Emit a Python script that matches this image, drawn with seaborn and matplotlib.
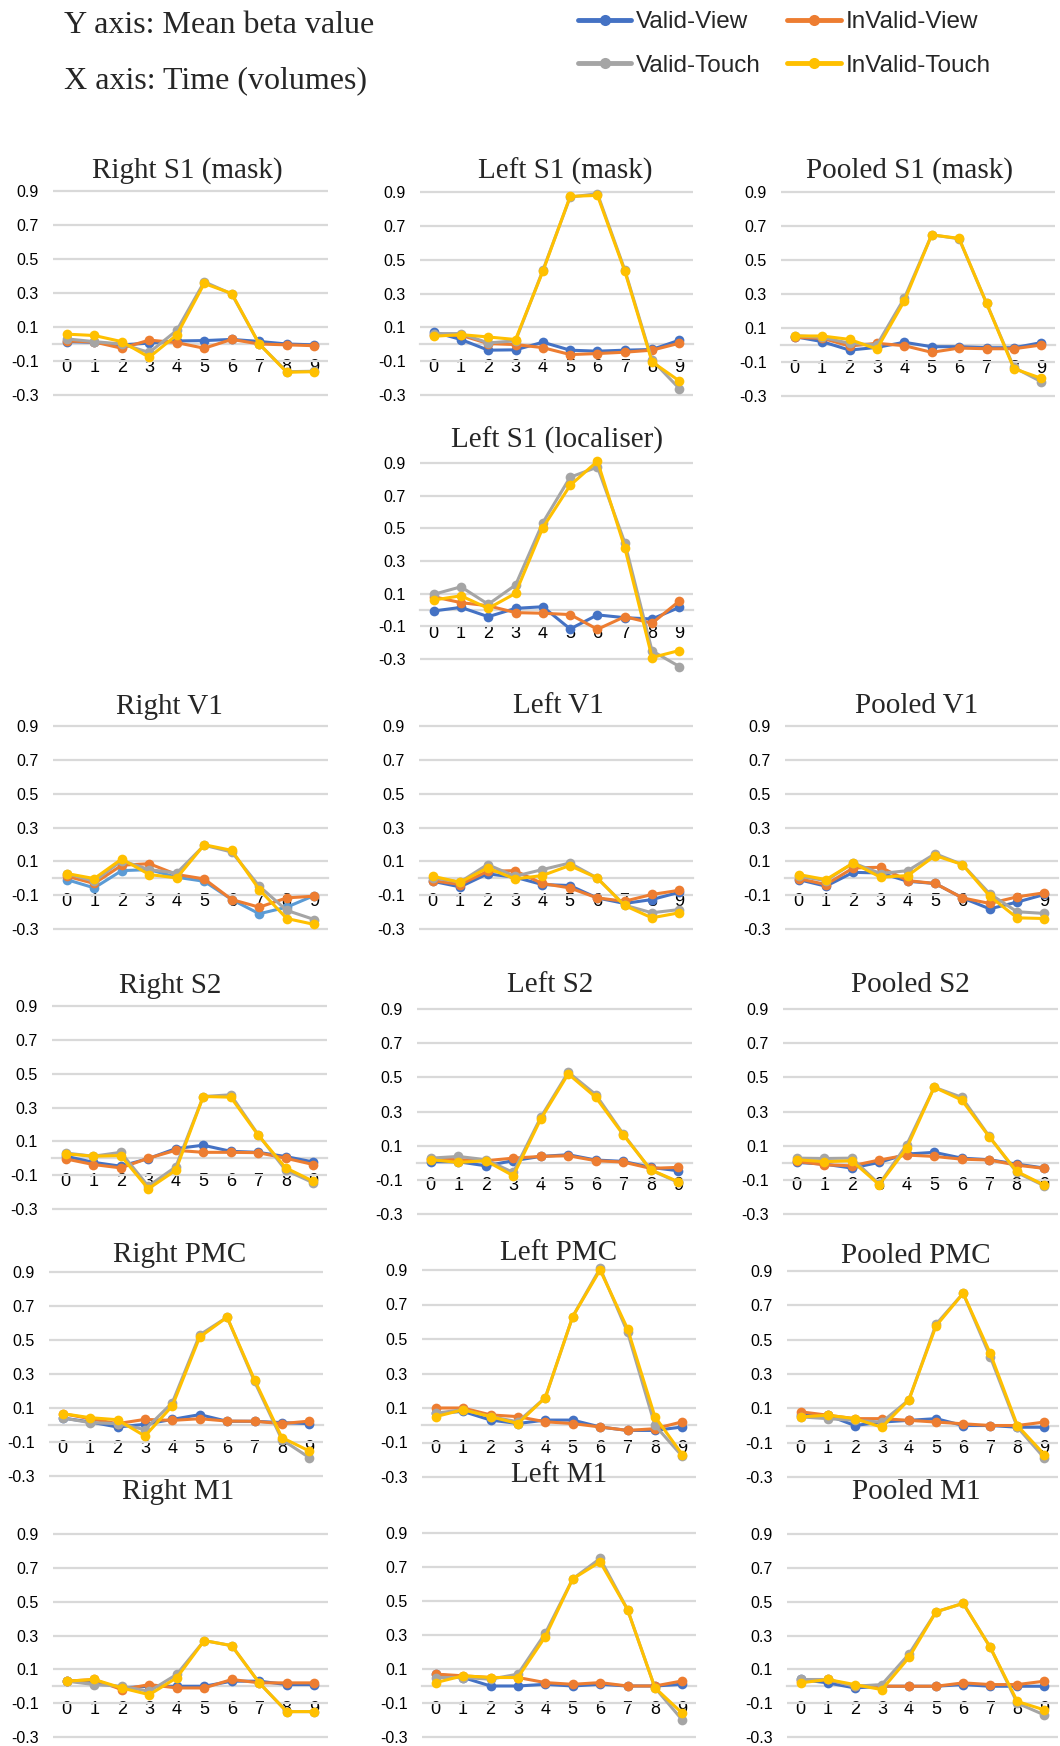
import numpy as np
import pandas as pd
import matplotlib
matplotlib.use("Agg")
import matplotlib.pyplot as plt
import seaborn as sns
from matplotlib.lines import Line2D

# ---------------- data ----------------
TIME = [0, 1, 2, 3, 4, 5, 6, 7, 8, 9]
X_LABELS = ["0", "1", "2", "3", "4", "5", "6", "7", "8", "9"]
Y_TICKS = [-0.3, -0.1, 0.1, 0.3, 0.5, 0.7, 0.9]
Y_LABELS = ["-0.3", "-0.1", "0.1", "0.3", "0.5", "0.7", "0.9"]
CONDITIONS = ["Valid-View", "InValid-View", "Valid-Touch", "InValid-Touch"]

# each panel: rows = Valid-View, InValid-View, Valid-Touch, InValid-Touch
RIGHT_S1_MASK = [
    [0.014, 0.010, -0.005, 0.005, 0.018, 0.020, 0.027, 0.015, 0.000, -0.005],
    [0.018, 0.012, -0.025, 0.023, 0.008, -0.025, 0.027, 0.000, -0.005, -0.010],
    [0.030, 0.014, 0.000, -0.050, 0.080, 0.366, 0.294, 0.000, -0.163, -0.160],
    [0.058, 0.050, 0.014, -0.078, 0.053, 0.356, 0.297, 0.000, -0.166, -0.163],
]
LEFT_S1_MASK = [
    [0.073, 0.028, -0.035, -0.033, 0.012, -0.035, -0.041, -0.035, -0.031, 0.024],
    [0.053, 0.053, 0.004, -0.002, -0.020, -0.061, -0.055, -0.047, -0.035, 0.006],
    [0.063, 0.063, 0.008, 0.020, 0.437, 0.870, 0.890, 0.440, -0.094, -0.262],
    [0.047, 0.057, 0.043, 0.028, 0.431, 0.874, 0.880, 0.433, -0.104, -0.217],
]
POOLED_S1_MASK = [
    [0.049, 0.020, -0.030, -0.014, 0.016, -0.010, -0.010, -0.016, -0.016, 0.014],
    [0.045, 0.040, -0.006, 0.010, -0.004, -0.043, -0.018, -0.022, -0.022, 0.000],
    [0.055, 0.045, 0.010, 0.000, 0.275, 0.648, 0.625, 0.246, -0.132, -0.216],
    [0.053, 0.053, 0.033, -0.024, 0.259, 0.648, 0.627, 0.246, -0.139, -0.196],
]
LEFT_S1_LOCALISER = [
    [-0.006, 0.016, -0.041, 0.010, 0.020, -0.116, -0.030, -0.047, -0.055, 0.016],
    [0.081, 0.045, 0.026, -0.016, -0.020, -0.028, -0.118, -0.041, -0.081, 0.055],
    [0.096, 0.142, 0.035, 0.153, 0.535, 0.813, 0.875, 0.413, -0.250, -0.346],
    [0.061, 0.087, 0.010, 0.102, 0.504, 0.763, 0.911, 0.382, -0.291, -0.248],
]
RIGHT_V1 = [
    [-0.008, -0.057, 0.045, 0.051, 0.006, -0.018, -0.126, -0.210, -0.171, -0.102],
    [0.012, -0.031, 0.077, 0.086, 0.022, -0.004, -0.126, -0.171, -0.116, -0.106],
    [0.028, -0.018, 0.104, 0.051, 0.031, 0.195, 0.155, -0.047, -0.190, -0.244],
    [0.028, -0.002, 0.114, 0.022, 0.002, 0.198, 0.165, -0.067, -0.238, -0.273],
]
LEFT_V1 = [
    [-0.018, -0.051, 0.026, 0.006, -0.037, -0.043, -0.116, -0.149, -0.126, -0.083],
    [-0.014, -0.037, 0.041, 0.045, -0.031, -0.057, -0.116, -0.136, -0.096, -0.071],
    [0.002, -0.022, 0.081, 0.012, 0.051, 0.090, 0.002, -0.159, -0.204, -0.185],
    [0.012, -0.024, 0.061, -0.004, 0.016, 0.075, 0.002, -0.161, -0.234, -0.204],
]
POOLED_V1 = [
    [-0.008, -0.047, 0.035, 0.031, -0.018, -0.031, -0.116, -0.181, -0.141, -0.096],
    [-0.002, -0.037, 0.061, 0.065, -0.014, -0.031, -0.116, -0.149, -0.110, -0.086],
    [0.012, -0.014, 0.090, 0.028, 0.045, 0.145, 0.081, -0.092, -0.198, -0.208],
    [0.022, -0.008, 0.090, 0.006, 0.016, 0.134, 0.081, -0.106, -0.234, -0.238],
]
RIGHT_S2 = [
    [0.012, -0.024, -0.047, -0.002, 0.057, 0.077, 0.041, 0.035, 0.010, -0.022],
    [-0.004, -0.037, -0.057, 0.000, 0.047, 0.035, 0.035, 0.033, 0.000, -0.037],
    [0.031, 0.012, 0.035, -0.165, -0.051, 0.365, 0.375, 0.139, -0.071, -0.145],
    [0.026, 0.012, 0.016, -0.181, -0.071, 0.365, 0.361, 0.136, -0.057, -0.136],
]
LEFT_S2 = [
    [0.006, 0.006, -0.018, 0.012, 0.037, 0.047, 0.016, 0.008, -0.027, -0.047],
    [0.021, 0.018, 0.012, 0.027, 0.037, 0.041, 0.012, 0.004, -0.033, -0.027],
    [0.027, 0.037, 0.018, -0.057, 0.266, 0.530, 0.399, 0.168, -0.043, -0.115],
    [0.018, 0.002, 0.012, -0.076, 0.256, 0.520, 0.383, 0.164, -0.041, -0.111],
]
POOLED_S2 = [
    [0.002, -0.008, -0.031, 0.002, 0.051, 0.061, 0.027, 0.018, -0.008, -0.031],
    [0.008, -0.012, -0.018, 0.016, 0.045, 0.037, 0.021, 0.016, -0.014, -0.033],
    [0.027, 0.025, 0.027, -0.125, 0.106, 0.442, 0.383, 0.154, -0.057, -0.135],
    [0.018, 0.006, 0.012, -0.129, 0.086, 0.442, 0.367, 0.152, -0.051, -0.131],
]
RIGHT_PMC = [
    [0.041, 0.018, -0.012, 0.004, 0.033, 0.061, 0.022, 0.022, 0.014, 0.008],
    [0.067, 0.037, 0.008, 0.033, 0.027, 0.037, 0.023, 0.022, 0.008, 0.023],
    [0.041, 0.014, 0.008, -0.027, 0.131, 0.530, 0.634, 0.256, -0.086, -0.192],
    [0.067, 0.043, 0.031, -0.065, 0.112, 0.517, 0.634, 0.266, -0.074, -0.153],
]
LEFT_PMC = [
    [0.070, 0.080, 0.030, 0.010, 0.030, 0.030, -0.010, -0.030, -0.030, -0.010],
    [0.100, 0.100, 0.060, 0.050, 0.020, 0.010, -0.010, -0.030, -0.020, 0.020],
    [0.070, 0.090, 0.050, 0.020, 0.160, 0.630, 0.910, 0.540, 0.000, -0.180],
    [0.050, 0.090, 0.050, 0.010, 0.160, 0.630, 0.900, 0.560, 0.050, -0.170],
]
POOLED_PMC = [
    [0.060, 0.060, 0.000, 0.020, 0.030, 0.040, 0.000, 0.000, -0.010, -0.010],
    [0.080, 0.060, 0.040, 0.040, 0.030, 0.020, 0.010, 0.000, 0.000, 0.020],
    [0.050, 0.040, 0.030, 0.020, 0.150, 0.590, 0.770, 0.400, -0.010, -0.190],
    [0.050, 0.060, 0.040, -0.010, 0.150, 0.580, 0.770, 0.420, 0.000, -0.170],
]
RIGHT_M1 = [
    [0.030, 0.030, -0.010, 0.000, 0.000, 0.000, 0.030, 0.030, 0.010, 0.010],
    [0.030, 0.040, -0.020, 0.010, -0.010, -0.010, 0.040, 0.020, 0.020, 0.020],
    [0.030, 0.010, 0.000, -0.030, 0.070, 0.270, 0.240, 0.020, -0.150, -0.150],
    [0.030, 0.040, -0.010, -0.050, 0.050, 0.270, 0.240, 0.020, -0.150, -0.150],
]
LEFT_M1 = [
    [0.070, 0.050, 0.000, 0.000, 0.010, 0.000, 0.010, 0.000, 0.000, 0.010],
    [0.070, 0.060, 0.050, 0.050, 0.020, 0.010, 0.020, 0.000, 0.000, 0.030],
    [0.050, 0.050, 0.040, 0.070, 0.310, 0.630, 0.750, 0.450, -0.010, -0.200],
    [0.020, 0.060, 0.050, 0.050, 0.290, 0.630, 0.730, 0.450, -0.010, -0.160],
]
POOLED_M1 = [
    [0.040, 0.020, -0.010, 0.000, 0.000, 0.000, 0.010, 0.000, 0.000, 0.000],
    [0.030, 0.040, 0.000, 0.000, 0.000, 0.000, 0.020, 0.010, 0.010, 0.030],
    [0.040, 0.040, 0.000, 0.010, 0.190, 0.440, 0.490, 0.230, -0.100, -0.170],
    [0.020, 0.040, 0.010, -0.020, 0.170, 0.440, 0.490, 0.230, -0.090, -0.140],
]

# ---------------- styling / layout ----------------
PALETTE = {"Valid-View": "#4472C4", "InValid-View": "#ED7D31",
           "Valid-Touch": "#A5A5A5", "InValid-Touch": "#FFC000"}
GRID = "#D9D9D9"
W, H = 1060, 1746

# (data, title, left px, right px, y of 0.9 px, y of -0.3 px, title centre x, title baseline y)
PANELS = [
    (RIGHT_S1_MASK, "Right S1 (mask)", 53, 328, 191, 395, 187, 178),
    (LEFT_S1_MASK, "Left S1 (mask)", 420, 693, 192, 395, 565, 179),
    (POOLED_S1_MASK, "Pooled S1 (mask)", 781, 1055, 192, 396, 910, 178),
    (LEFT_S1_LOCALISER, "Left S1 (localiser)", 420, 693, 463, 659, 557, 448),
    (RIGHT_V1, "Right V1", 53, 328, 726, 929, 169, 714),
    (LEFT_V1, "Left V1", 419, 693, 726, 929, 558, 713),
    (POOLED_V1, "Pooled V1", 785, 1058, 726, 929, 917, 713),
    (RIGHT_S2, "Right S2", 52, 327, 1006, 1209, 170, 993),
    (LEFT_S2, "Left S2", 417, 692, 1009, 1214, 550, 992),
    (POOLED_S2, "Pooled S2", 783, 1058, 1009, 1214, 910, 992),
    (RIGHT_PMC, "Right PMC", 49, 323, 1272, 1476, 180, 1262),
    (LEFT_PMC, "Left PMC", 422, 696, 1270, 1477, 559, 1260),
    (POOLED_PMC, "Pooled PMC", 787, 1058, 1271, 1477, 916, 1263),
    (RIGHT_M1, "Right M1", 53, 328, 1534, 1737, 178, 1499),
    (LEFT_M1, "Left M1", 422, 696, 1533, 1737, 559, 1482),
    (POOLED_M1, "Pooled M1", 787, 1058, 1534, 1737, 916, 1499),
]

sns.set_style("white")
plt.rcParams["font.family"] = ["Liberation Sans", "DejaVu Sans"]
plt.rcParams["axes.unicode_minus"] = False

fig = plt.figure(figsize=(W / 100, H / 100), dpi=100)

YLO, YHI = -0.32, 0.92
for data, title, left, right, y09, ym03, tx, tb in PANELS:
    ppu = (ym03 - y09) / 1.2
    top_px = y09 - (YHI - 0.9) * ppu
    bot_px = ym03 + (-0.3 - YLO) * ppu
    ax = fig.add_axes([left / W, 1 - bot_px / H, (right - left) / W, (bot_px - top_px) / H])
    df = pd.DataFrame({
        "t": TIME * 4,
        "v": [v for row in data for v in row],
        "cond": [c for c in CONDITIONS for _ in TIME],
    })
    pal = dict(PALETTE)
    if title == "Right V1":
        pal["Valid-View"] = "#5B9BD5"
    sns.lineplot(data=df, x="t", y="v", hue="cond", hue_order=CONDITIONS,
                 palette=pal, marker="o", markersize=7, markeredgewidth=0,
                 linewidth=2.2, legend=False, sort=False, ax=ax,
                 clip_on=False, zorder=3)
    ax.set_xlim(-0.5, 9.5)
    ax.set_ylim(YLO, YHI)
    ax.set_yticks(Y_TICKS)
    ax.set_yticklabels(Y_LABELS)
    ax.set_xticks(TIME)
    ax.set_xticklabels(X_LABELS)
    ax.set_xlabel("")
    ax.set_ylabel("")
    ax.grid(axis="y", color=GRID, linewidth=1.6)
    ax.grid(axis="x", visible=False)
    ax.set_axisbelow(True)
    for s in ["top", "right", "left"]:
        ax.spines[s].set_visible(False)
    ax.spines["bottom"].set_position(("data", 0))
    ax.spines["bottom"].set_color(GRID)
    ax.spines["bottom"].set_linewidth(1.6)
    ax.spines["bottom"].set_zorder(1)
    ax.tick_params(axis="y", length=0, pad=10, labelsize=11.5, colors="#000000")
    ax.tick_params(axis="x", length=0, pad=10.5, labelsize=13, colors="#000000")
    ax.patch.set_alpha(0)
    fig.text(tx / W, 1 - tb / H, title, ha="center", va="baseline",
             fontsize=21, family=["Liberation Serif", "DejaVu Serif"])

# header texts
fig.text(64 / W, 1 - 33 / H, "Y axis: Mean beta value", ha="left", va="baseline",
         fontsize=23, family=["Liberation Serif", "DejaVu Serif"])
fig.text(64 / W, 1 - 88 / H, "X axis: Time (volumes)", ha="left", va="baseline",
         fontsize=23, family=["Liberation Serif", "DejaVu Serif"])

# legend
handles = [Line2D([0], [0], color=PALETTE[c], lw=3.5, marker="o", markersize=8,
                  markeredgewidth=0) for c in CONDITIONS]
order = [0, 2, 1, 3]
fig.legend([handles[i] for i in order], [CONDITIONS[i] for i in order],
           loc="upper left", bbox_to_anchor=(578 / W, 1 - 11 / H), ncol=2,
           frameon=False, fontsize=17.5, handlelength=2.2, handletextpad=0.2,
           columnspacing=1.08, labelspacing=0.9, borderpad=0, borderaxespad=0)

fig.savefig("out.png", dpi=100, facecolor="white")
